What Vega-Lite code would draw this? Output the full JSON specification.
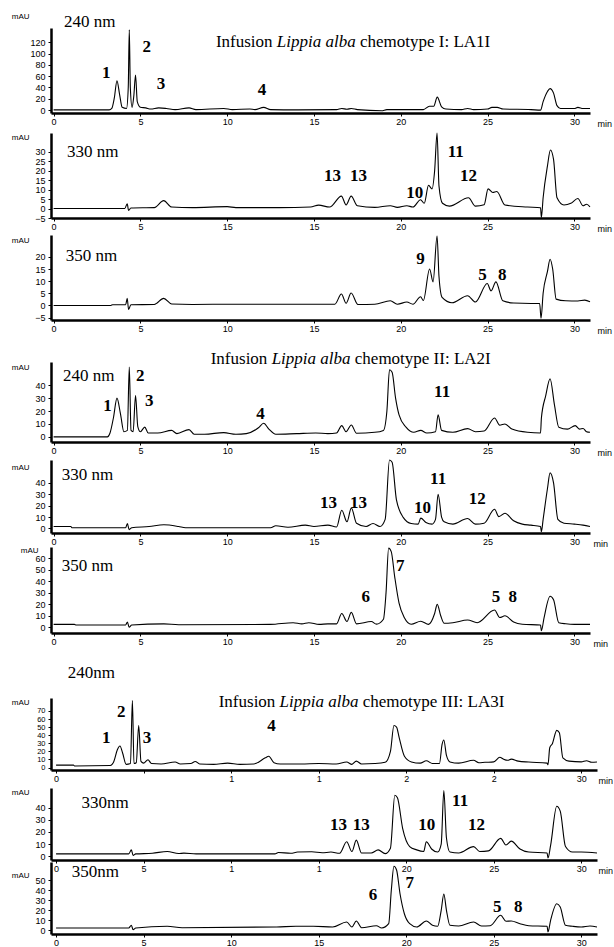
{
"$schema": "https://vega.github.io/schema/vega-lite/v6.json",
"background": "white",
"padding": {"left": 11, "top": 12, "right": 0, "bottom": 0},
"bounds": "flush",
"spacing": 0,
"config": {
 "view": {"stroke": null},
 "axis": {"domainColor": "black", "domainWidth": 2.5, "tickColor": "black", "tickSize": 3, "tickWidth": 1, "labelFont": "Liberation Sans", "labelFontSize": 9, "labelColor": "black", "labelPadding": 1, "labelOverlap": false, "labelFlush": false, "labelBound": false, "grid": false, "titleFont": "Liberation Sans", "titleFontSize": 9, "titleFontWeight": "normal", "titleColor": "black", "titlePadding": 0},
 "axisY": {"labelPadding": 3, "titleAngle": 0, "titleAlign": "right", "titleBaseline": "middle", "titleX": -22, "titleFontSize": 8},
 "axisX": {"titleAlign": "left", "titleBaseline": "middle", "titleY": 10, "titleAngle": 0},
 "text": {"font": "Liberation Serif", "fontSize": 17, "color": "black"},
 "line": {"color": "black", "strokeWidth": 1.1, "interpolate": "monotone"}
},
"vconcat": [
{
 "width": 539, "height": 85,
 "encoding": {
  "x": {"field": "t", "type": "quantitative", "scale": {"domain": [-0.15, 30.9], "nice": false, "zero": false}, "axis": {"values": [0,5,10,15,20,25,30], "title": "min", "titleX": 546}},
  "y": {"field": "v", "type": "quantitative", "scale": {"domain": [-5, 145], "nice": false, "zero": false}, "axis": {"values": [0,20,40,60,80,100,120], "title": "mAU", "titleY": -12}}
 },
 "layer": [
  {"data": {"values": [
   {"t":0,"v":0.5},{"t":3.2,"v":0.5},{"t":3.35,"v":3},{"t":3.5,"v":22},{"t":3.65,"v":52},{"t":3.8,"v":28},{"t":3.95,"v":5},{"t":4.2,"v":3},{"t":4.3,"v":40},{"t":4.36,"v":142},{"t":4.42,"v":40},{"t":4.52,"v":5},{"t":4.62,"v":25},{"t":4.72,"v":62},{"t":4.82,"v":15},{"t":5.0,"v":5},{"t":5.3,"v":4},{"t":5.6,"v":2},{"t":6.05,"v":4},{"t":6.5,"v":3},{"t":7.0,"v":1},{"t":7.8,"v":4},{"t":8.2,"v":1},{"t":9.8,"v":3},{"t":10.3,"v":1},{"t":11.3,"v":2},{"t":11.6,"v":1},{"t":12.1,"v":5},{"t":12.5,"v":1},{"t":14,"v":0.5},{"t":16.3,"v":1},{"t":16.6,"v":3},{"t":16.9,"v":1.5},{"t":17.15,"v":3},{"t":17.5,"v":1},{"t":18.9,"v":-1},{"t":19.2,"v":1},{"t":21.3,"v":1},{"t":21.65,"v":7},{"t":21.9,"v":7},{"t":22.1,"v":23},{"t":22.35,"v":6},{"t":22.6,"v":2},{"t":23.5,"v":1},{"t":23.85,"v":3},{"t":24.2,"v":1},{"t":25.0,"v":2},{"t":25.25,"v":5},{"t":25.55,"v":5},{"t":25.9,"v":2},{"t":27.5,"v":1},{"t":28.05,"v":0},{"t":28.2,"v":15},{"t":28.45,"v":33},{"t":28.6,"v":38},{"t":28.8,"v":30},{"t":29.0,"v":8},{"t":29.2,"v":3},{"t":30.0,"v":3},{"t":30.2,"v":5},{"t":30.5,"v":3},{"t":30.9,"v":3}
  ]}, "mark": {"type": "line"}, "encoding": {}},
  {"data": {"values": [{"t":3.03,"v":65,"s":"1"},{"t":5.37,"v":111,"s":"2"},{"t":6.18,"v":47,"s":"3"},{"t":12.0,"v":35,"s":"4"}]},
   "mark": {"type": "text", "fontWeight": "bold", "align": "center", "baseline": "middle"}, "encoding": {"text": {"field": "s"}}},
  {"data": {"values": [{"t":0.6,"v":155,"s":"240 nm"},{"t":9.35,"v":120,"s":"Infusion"},{"t":17.65,"v":120,"s":"chemotype I: LA1I"}]},
   "mark": {"type": "text", "align": "left", "baseline": "middle"}, "encoding": {"text": {"field": "s"}}},
  {"data": {"values": [{"t":12.86,"v":120,"s":"Lippia alba"}]},
   "mark": {"type": "text", "align": "left", "baseline": "middle", "fontStyle": "italic"}, "encoding": {"text": {"field": "s"}}}
 ]
},
{"width": 539, "height": 20, "data": {"values": []}, "mark": "point"},
{
 "width": 539, "height": 85,
 "encoding": {
  "x": {"field": "t", "type": "quantitative", "scale": {"domain": [-0.15, 30.9], "nice": false, "zero": false}, "axis": {"values": [0,5,10,15,20,25,30], "labelExpr": "datum.value == 10 ? '15' : datum.label", "title": "min", "titleX": 546}},
  "y": {"field": "v", "type": "quantitative", "scale": {"domain": [-5, 40], "nice": false, "zero": false}, "axis": {"values": [-5,0,5,10,15,20,25,30], "title": "mAU", "titleY": 4}}
 },
 "layer": [
  {"data": {"values": [
   {"t":0,"v":0},{"t":4.1,"v":0},{"t":4.24,"v":2.5},{"t":4.32,"v":-1},{"t":4.45,"v":0.3},{"t":5.8,"v":0.5},{"t":6.34,"v":4.2},{"t":6.8,"v":0.8},{"t":8,"v":0.5},{"t":10.0,"v":1},{"t":10.5,"v":0.5},{"t":13,"v":0.5},{"t":14.8,"v":0.8},{"t":15.27,"v":1.8},{"t":15.9,"v":0.8},{"t":16.58,"v":6.6},{"t":16.85,"v":1.9},{"t":17.14,"v":6.6},{"t":17.5,"v":1.5},{"t":18.5,"v":0.6},{"t":19.4,"v":1.5},{"t":19.8,"v":0.6},{"t":20.35,"v":1.5},{"t":20.7,"v":0.8},{"t":21.14,"v":4.7},{"t":21.35,"v":2.8},{"t":21.6,"v":12.3},{"t":21.8,"v":10.4},{"t":21.95,"v":20},{"t":22.09,"v":40},{"t":22.2,"v":12},{"t":22.4,"v":2.8},{"t":22.8,"v":1.3},{"t":23.9,"v":5.7},{"t":24.3,"v":1.3},{"t":24.8,"v":2},{"t":25.03,"v":10.4},{"t":25.3,"v":8.5},{"t":25.53,"v":9},{"t":26.0,"v":1.9},{"t":27.3,"v":0.8},{"t":28.05,"v":0.4},{"t":28.1,"v":-4.7},{"t":28.2,"v":5.7},{"t":28.45,"v":22.6},{"t":28.62,"v":31},{"t":28.8,"v":26},{"t":29.0,"v":5.7},{"t":29.4,"v":1.9},{"t":29.8,"v":2.8},{"t":30.2,"v":5.3},{"t":30.5,"v":1.5},{"t":30.7,"v":2.3},{"t":30.9,"v":0.9}
  ]}, "mark": {"type": "line"}, "encoding": {}},
  {"data": {"values": [{"t":16.06,"v":17,"s":"13"},{"t":17.57,"v":17,"s":"13"},{"t":20.8,"v":8.5,"s":"10"},{"t":23.17,"v":30,"s":"11"},{"t":23.9,"v":17,"s":"12"}]},
   "mark": {"type": "text", "fontWeight": "bold", "align": "center", "baseline": "middle"}, "encoding": {"text": {"field": "s"}}},
  {"data": {"values": [{"t":0.77,"v":30,"s":"330 nm"}]},
   "mark": {"type": "text", "align": "left", "baseline": "middle"}, "encoding": {"text": {"field": "s"}}}
 ]
},
{"width": 539, "height": 17, "data": {"values": []}, "mark": "point"},
{
 "width": 539, "height": 85,
 "encoding": {
  "x": {"field": "t", "type": "quantitative", "scale": {"domain": [-0.15, 30.9], "nice": false, "zero": false}, "axis": {"values": [0,5,10,15,20,25,30], "title": "min", "titleX": 546}},
  "y": {"field": "v", "type": "quantitative", "scale": {"domain": [-6, 29], "nice": false, "zero": false}, "axis": {"values": [-5,0,5,10,15,20], "title": "mAU", "titleY": 5}}
 },
 "layer": [
  {"data": {"values": [
   {"t":0,"v":0},{"t":3.3,"v":0},{"t":3.4,"v":0.3},{"t":4.15,"v":0.3},{"t":4.24,"v":2.9},{"t":4.32,"v":-1.7},{"t":4.45,"v":0.3},{"t":5.8,"v":0.4},{"t":6.34,"v":2.9},{"t":6.8,"v":0.6},{"t":8,"v":0.4},{"t":10,"v":0.5},{"t":13,"v":0.5},{"t":16.2,"v":0.5},{"t":16.58,"v":4.7},{"t":16.85,"v":0.9},{"t":17.14,"v":5.1},{"t":17.53,"v":0.4},{"t":18.5,"v":0.5},{"t":19.4,"v":1.9},{"t":19.8,"v":0.5},{"t":20.35,"v":1.4},{"t":20.7,"v":0.5},{"t":21.14,"v":3.6},{"t":21.3,"v":2},{"t":21.66,"v":15},{"t":21.86,"v":9.7},{"t":22.09,"v":28.6},{"t":22.2,"v":12},{"t":22.38,"v":3.3},{"t":22.95,"v":1.1},{"t":23.85,"v":4},{"t":24.3,"v":1.4},{"t":24.98,"v":9},{"t":25.2,"v":6},{"t":25.48,"v":9.7},{"t":25.88,"v":1.9},{"t":26.5,"v":1},{"t":27.5,"v":0.8},{"t":28.0,"v":0.8},{"t":28.08,"v":-5.3},{"t":28.2,"v":5},{"t":28.45,"v":14},{"t":28.6,"v":19},{"t":28.75,"v":15},{"t":28.95,"v":2.6},{"t":29.5,"v":1.9},{"t":30.2,"v":1.8},{"t":30.6,"v":2.2},{"t":30.9,"v":1.5}
  ]}, "mark": {"type": "line"}, "encoding": {}},
  {"data": {"values": [{"t":21.14,"v":19,"s":"9"},{"t":24.71,"v":12.6,"s":"5"},{"t":25.84,"v":12.6,"s":"8"}]},
   "mark": {"type": "text", "fontWeight": "bold", "align": "center", "baseline": "middle"}, "encoding": {"text": {"field": "s"}}},
  {"data": {"values": [{"t":0.7,"v":20.4,"s":"350 nm"}]},
   "mark": {"type": "text", "align": "left", "baseline": "middle"}, "encoding": {"text": {"field": "s"}}}
 ]
},
{"width": 539, "height": 42, "data": {"values": []}, "mark": "point"},
{
 "width": 539, "height": 80,
 "encoding": {
  "x": {"field": "t", "type": "quantitative", "scale": {"domain": [-0.15, 30.9], "nice": false, "zero": false}, "axis": {"values": [0,5,10,15,20,25,30], "title": "min", "titleX": 546}},
  "y": {"field": "v", "type": "quantitative", "scale": {"domain": [-4, 58], "nice": false, "zero": false}, "axis": {"values": [0,10,20,30,40], "title": "mAU", "titleY": 5}}
 },
 "layer": [
  {"data": {"values": [
   {"t":0,"v":0},{"t":3.1,"v":0},{"t":3.25,"v":3},{"t":3.45,"v":15},{"t":3.65,"v":30},{"t":3.85,"v":18},{"t":4.05,"v":4},{"t":4.25,"v":5},{"t":4.36,"v":54},{"t":4.46,"v":5},{"t":4.58,"v":4},{"t":4.72,"v":32},{"t":4.85,"v":8},{"t":5.0,"v":4},{"t":5.25,"v":7.5},{"t":5.45,"v":3},{"t":6.0,"v":3},{"t":6.8,"v":5},{"t":7.1,"v":2.5},{"t":7.8,"v":5.6},{"t":8.1,"v":2},{"t":8.7,"v":2},{"t":9.8,"v":3.3},{"t":10.5,"v":2},{"t":11.1,"v":2.5},{"t":11.8,"v":7},{"t":12.1,"v":10.5},{"t":12.4,"v":6},{"t":12.8,"v":2},{"t":14,"v":2.5},{"t":15.1,"v":3},{"t":15.8,"v":2.5},{"t":16.3,"v":3},{"t":16.6,"v":8.7},{"t":16.85,"v":4},{"t":17.15,"v":9.2},{"t":17.45,"v":2.8},{"t":18.5,"v":3.5},{"t":19.0,"v":5},{"t":19.2,"v":20},{"t":19.35,"v":52},{"t":19.5,"v":50},{"t":19.7,"v":30},{"t":19.9,"v":17},{"t":20.3,"v":7.5},{"t":20.75,"v":3.5},{"t":21.15,"v":5},{"t":21.5,"v":3},{"t":22.0,"v":4},{"t":22.15,"v":17},{"t":22.35,"v":5},{"t":23.0,"v":3.5},{"t":23.85,"v":6.4},{"t":24.3,"v":4},{"t":24.8,"v":4.5},{"t":25.4,"v":14.6},{"t":25.7,"v":9},{"t":26.0,"v":10},{"t":26.4,"v":6},{"t":27.3,"v":3.5},{"t":28.05,"v":3},{"t":28.1,"v":14.6},{"t":28.35,"v":32},{"t":28.6,"v":45},{"t":28.85,"v":25},{"t":29.1,"v":7.5},{"t":29.6,"v":6},{"t":30.05,"v":8.7},{"t":30.3,"v":6},{"t":30.5,"v":6.5},{"t":30.7,"v":4},{"t":30.9,"v":3.5}
  ]}, "mark": {"type": "line"}, "encoding": {}},
  {"data": {"values": [{"t":3.11,"v":24,"s":"1"},{"t":4.99,"v":47.5,"s":"2"},{"t":5.51,"v":27.5,"s":"3"},{"t":11.92,"v":17.6,"s":"4"},{"t":22.38,"v":34.6,"s":"11"}]},
   "mark": {"type": "text", "fontWeight": "bold", "align": "center", "baseline": "middle"}, "encoding": {"text": {"field": "s"}}},
  {"data": {"values": [{"t":0.54,"v":47.5,"s":"240 nm"},{"t":9.05,"v":60.5,"s":"Infusion"},{"t":17.35,"v":60.5,"s":"chemotype  II: LA2I"}]},
   "mark": {"type": "text", "align": "left", "baseline": "middle"}, "encoding": {"text": {"field": "s"}}},
  {"data": {"values": [{"t":12.56,"v":60.5,"s":"Lippia alba"}]},
   "mark": {"type": "text", "align": "left", "baseline": "middle", "fontStyle": "italic"}, "encoding": {"text": {"field": "s"}}}
 ]
},
{"width": 539, "height": 18, "data": {"values": []}, "mark": "point"},
{
 "width": 539, "height": 73,
 "encoding": {
  "x": {"field": "t", "type": "quantitative", "scale": {"domain": [-0.15, 30.9], "nice": false, "zero": false}, "axis": {"values": [0,5,10,15,20,25,30], "title": "min", "titleX": 542}},
  "y": {"field": "v", "type": "quantitative", "scale": {"domain": [-4, 60], "nice": false, "zero": false}, "axis": {"values": [0,10,20,30,40], "title": "mAU", "titleY": 7}}
 },
 "layer": [
  {"data": {"values": [
   {"t":0,"v":1.7},{"t":1.0,"v":1.7},{"t":1.05,"v":0.6},{"t":4.15,"v":0.6},{"t":4.25,"v":4.3},{"t":4.35,"v":-1},{"t":4.5,"v":0.6},{"t":5.5,"v":1.7},{"t":6.35,"v":3.2},{"t":7.2,"v":1.7},{"t":7.6,"v":0.6},{"t":12.5,"v":0.6},{"t":12.8,"v":2.3},{"t":13.5,"v":1},{"t":14.5,"v":2.9},{"t":15.0,"v":1.7},{"t":15.8,"v":2.9},{"t":16.3,"v":1.2},{"t":16.6,"v":16},{"t":16.9,"v":5.8},{"t":17.15,"v":18},{"t":17.45,"v":4.6},{"t":18.0,"v":1.7},{"t":18.4,"v":4.3},{"t":18.8,"v":1.7},{"t":19.1,"v":8},{"t":19.35,"v":60},{"t":19.5,"v":58},{"t":19.75,"v":25},{"t":20.15,"v":9.5},{"t":20.6,"v":4.3},{"t":21.0,"v":3.8},{"t":21.15,"v":9},{"t":21.45,"v":5.2},{"t":21.8,"v":3.8},{"t":22.0,"v":8},{"t":22.15,"v":30},{"t":22.35,"v":10},{"t":22.5,"v":5.8},{"t":23.0,"v":3.8},{"t":23.85,"v":8.7},{"t":24.3,"v":3.8},{"t":24.8,"v":4.6},{"t":25.4,"v":16.8},{"t":25.65,"v":10.4},{"t":26.0,"v":13.3},{"t":26.5,"v":6.7},{"t":27.0,"v":3.8},{"t":27.5,"v":2.9},{"t":28.05,"v":1.7},{"t":28.1,"v":-2.9},{"t":28.2,"v":8},{"t":28.45,"v":35},{"t":28.6,"v":48.7},{"t":28.8,"v":40},{"t":29.05,"v":8},{"t":29.4,"v":4.6},{"t":30.0,"v":3.8},{"t":30.5,"v":2.9},{"t":30.9,"v":1.7}
  ]}, "mark": {"type": "line"}, "encoding": {}},
  {"data": {"values": [{"t":15.83,"v":22.6,"s":"13"},{"t":17.57,"v":22.6,"s":"13"},{"t":21.25,"v":18.3,"s":"10"},{"t":22.15,"v":43,"s":"11"},{"t":24.41,"v":25.5,"s":"12"}]},
   "mark": {"type": "text", "fontWeight": "bold", "align": "center", "baseline": "middle"}, "encoding": {"text": {"field": "s"}}},
  {"data": {"values": [{"t":0.47,"v":47,"s":"330 nm"}]},
   "mark": {"type": "text", "align": "left", "baseline": "middle"}, "encoding": {"text": {"field": "s"}}}
 ]
},
{"width": 539, "height": 14, "data": {"values": []}, "mark": "point"},
{
 "width": 539, "height": 86,
 "encoding": {
  "x": {"field": "t", "type": "quantitative", "scale": {"domain": [-0.15, 30.9], "nice": false, "zero": false}, "axis": {"values": [0,5,10,15,20,25,30], "title": "min", "titleX": 542}},
  "y": {"field": "v", "type": "quantitative", "scale": {"domain": [-5, 70], "nice": false, "zero": false}, "axis": {"values": [0,10,20,30,40,50,60], "title": "mAU", "titleY": 3, "titleX": -13}}
 },
 "layer": [
  {"data": {"values": [
   {"t":0,"v":2.5},{"t":1.2,"v":2.5},{"t":1.3,"v":2},{"t":4.15,"v":2},{"t":4.25,"v":4.5},{"t":4.35,"v":0},{"t":4.5,"v":2},{"t":6.35,"v":3},{"t":7.2,"v":2.2},{"t":12.5,"v":2.5},{"t":13.8,"v":4},{"t":14.3,"v":3},{"t":14.7,"v":4},{"t":15.3,"v":2.5},{"t":15.8,"v":3},{"t":16.3,"v":3},{"t":16.6,"v":12},{"t":16.9,"v":5},{"t":17.15,"v":13},{"t":17.45,"v":3},{"t":18.3,"v":5},{"t":18.6,"v":2.7},{"t":19.0,"v":7},{"t":19.15,"v":30},{"t":19.3,"v":69},{"t":19.45,"v":66},{"t":19.65,"v":44},{"t":19.9,"v":21},{"t":20.2,"v":8.5},{"t":20.6,"v":2.6},{"t":21.15,"v":5.3},{"t":21.6,"v":2.5},{"t":21.95,"v":12},{"t":22.1,"v":20},{"t":22.3,"v":10},{"t":22.5,"v":3.5},{"t":23.0,"v":4},{"t":23.85,"v":6.3},{"t":24.4,"v":4},{"t":25.4,"v":15},{"t":25.7,"v":8.5},{"t":26.0,"v":10},{"t":26.5,"v":4.5},{"t":27.0,"v":2.6},{"t":28.05,"v":2},{"t":28.1,"v":-3},{"t":28.25,"v":8},{"t":28.6,"v":27},{"t":28.8,"v":24},{"t":29.1,"v":4},{"t":29.5,"v":3},{"t":30.0,"v":2.5},{"t":30.9,"v":2.5}
  ]}, "mark": {"type": "line"}, "encoding": {}},
  {"data": {"values": [{"t":17.98,"v":26,"s":"6"},{"t":19.97,"v":53.6,"s":"7"},{"t":25.48,"v":26,"s":"5"},{"t":26.45,"v":26,"s":"8"}]},
   "mark": {"type": "text", "fontWeight": "bold", "align": "center", "baseline": "middle"}, "encoding": {"text": {"field": "s"}}},
  {"data": {"values": [{"t":0.47,"v":53.6,"s":"350 nm"}]},
   "mark": {"type": "text", "align": "left", "baseline": "middle"}, "encoding": {"text": {"field": "s"}}}
 ]
},
{"width": 539, "height": 65, "data": {"values": []}, "mark": "point"},
{
 "width": 546, "height": 72,
 "encoding": {
  "x": {"field": "t", "type": "quantitative", "scale": {"domain": [-0.29, 30.9], "nice": false, "zero": false}, "axis": {"values": [0,5,10,15,20,25,30], "labelExpr": "datum.value == 5 ? '' : (datum.value == 10 || datum.value == 15) ? '1' : (datum.value == 20 || datum.value == 25) ? '2' : datum.label", "title": "min", "titleX": 547}},
  "y": {"field": "v", "type": "quantitative", "scale": {"domain": [-3, 86], "nice": false, "zero": false}, "axis": {"values": [0,10,20,30,40,50,60,70], "labelFontSize": 7.5, "title": "mAU", "titleY": 4}}
 },
 "layer": [
  {"data": {"values": [
   {"t":0,"v":3},{"t":1.0,"v":3},{"t":1.05,"v":2},{"t":3.1,"v":2.5},{"t":3.3,"v":7.6},{"t":3.5,"v":22},{"t":3.65,"v":26.6},{"t":3.8,"v":18},{"t":4.0,"v":4},{"t":4.25,"v":5},{"t":4.36,"v":83},{"t":4.45,"v":5},{"t":4.58,"v":6},{"t":4.72,"v":52},{"t":4.85,"v":7.6},{"t":5.0,"v":5.5},{"t":5.25,"v":9.7},{"t":5.45,"v":5},{"t":6.0,"v":4.5},{"t":6.8,"v":6.8},{"t":7.1,"v":4.5},{"t":7.7,"v":5},{"t":7.95,"v":7.6},{"t":8.2,"v":4.5},{"t":9.0,"v":4},{"t":9.8,"v":5.5},{"t":10.5,"v":4},{"t":11.3,"v":4.5},{"t":11.95,"v":12},{"t":12.15,"v":14},{"t":12.45,"v":6},{"t":12.8,"v":4.5},{"t":14,"v":4.5},{"t":15,"v":5},{"t":16,"v":4.5},{"t":16.6,"v":6.8},{"t":16.9,"v":4},{"t":17.15,"v":8},{"t":17.45,"v":4.5},{"t":18.2,"v":5},{"t":18.8,"v":6.5},{"t":19.1,"v":20},{"t":19.3,"v":52},{"t":19.45,"v":50},{"t":19.6,"v":37},{"t":19.9,"v":14},{"t":20.3,"v":7},{"t":20.8,"v":5.5},{"t":21.15,"v":8.4},{"t":21.5,"v":5},{"t":21.9,"v":5},{"t":22.05,"v":28.7},{"t":22.15,"v":34},{"t":22.3,"v":15},{"t":22.5,"v":7},{"t":23.0,"v":5.5},{"t":23.85,"v":9},{"t":24.15,"v":6},{"t":24.5,"v":6.5},{"t":25.0,"v":7},{"t":25.35,"v":12.7},{"t":25.55,"v":10.5},{"t":25.8,"v":9},{"t":26.0,"v":10.5},{"t":26.4,"v":8},{"t":27.0,"v":6.8},{"t":28.05,"v":5.5},{"t":28.1,"v":3.4},{"t":28.2,"v":24.5},{"t":28.35,"v":29.5},{"t":28.6,"v":46},{"t":28.75,"v":43},{"t":28.95,"v":12},{"t":29.3,"v":8},{"t":30.0,"v":7},{"t":30.3,"v":8.5},{"t":30.6,"v":6.5},{"t":30.9,"v":6.8}
  ]}, "mark": {"type": "line"}, "encoding": {}},
  {"data": {"values": [{"t":2.86,"v":37,"s":"1"},{"t":3.72,"v":69,"s":"2"},{"t":5.2,"v":37,"s":"3"},{"t":12.3,"v":52,"s":"4"}]},
   "mark": {"type": "text", "fontWeight": "bold", "align": "center", "baseline": "middle"}, "encoding": {"text": {"field": "s"}}},
  {"data": {"values": [{"t":0.67,"v":117,"s":"240nm"},{"t":9.29,"v":81,"s":"Infusion"},{"t":17.52,"v":81,"s":"chemotype III: LA3I"}]},
   "mark": {"type": "text", "align": "left", "baseline": "middle"}, "encoding": {"text": {"field": "s"}}},
  {"data": {"values": [{"t":12.77,"v":81,"s":"Lippia alba"}]},
   "mark": {"type": "text", "align": "left", "baseline": "middle", "fontStyle": "italic"}, "encoding": {"text": {"field": "s"}}}
 ]
},
{"width": 546, "height": 18, "data": {"values": []}, "mark": "point"},
{
 "width": 546, "height": 72,
 "encoding": {
  "x": {"field": "t", "type": "quantitative", "scale": {"domain": [-0.29, 30.9], "nice": false, "zero": false}, "axis": {"values": [0,5,10,15,20,25,30], "labelExpr": "(datum.value == 10 || datum.value == 15) ? '1' : datum.label", "title": "min", "titleX": 547}},
  "y": {"field": "v", "type": "quantitative", "scale": {"domain": [-3, 56], "nice": false, "zero": false}, "axis": {"values": [0,10,20,30,40], "title": "mAU", "titleY": 4}}
 },
 "layer": [
  {"data": {"values": [
   {"t":0,"v":2},{"t":4.15,"v":2},{"t":4.3,"v":5.3},{"t":4.4,"v":0.8},{"t":4.55,"v":2},{"t":5.5,"v":2.5},{"t":6.35,"v":4},{"t":7.0,"v":2.3},{"t":7.3,"v":2.6},{"t":8,"v":2},{"t":12.5,"v":2},{"t":12.7,"v":3.2},{"t":13.4,"v":2.5},{"t":13.8,"v":3.5},{"t":14.6,"v":3.7},{"t":15.2,"v":2.9},{"t":15.7,"v":3.5},{"t":16.2,"v":2.5},{"t":16.6,"v":12},{"t":16.9,"v":4},{"t":17.15,"v":13.3},{"t":17.45,"v":2.7},{"t":18.0,"v":2.7},{"t":18.4,"v":5.3},{"t":18.8,"v":2.2},{"t":19.1,"v":6.7},{"t":19.35,"v":50},{"t":19.5,"v":48},{"t":19.8,"v":22.7},{"t":20.2,"v":8},{"t":20.6,"v":5.3},{"t":21.0,"v":4},{"t":21.15,"v":12},{"t":21.45,"v":6},{"t":21.8,"v":3.5},{"t":22.0,"v":10},{"t":22.15,"v":54},{"t":22.3,"v":15},{"t":22.5,"v":3.5},{"t":23.0,"v":2.7},{"t":23.85,"v":8},{"t":24.2,"v":4},{"t":24.7,"v":4.5},{"t":25.4,"v":14.7},{"t":25.7,"v":9.3},{"t":26.0,"v":12.5},{"t":26.5,"v":6},{"t":27.0,"v":3.5},{"t":28.05,"v":2.7},{"t":28.1,"v":-1.3},{"t":28.25,"v":9},{"t":28.6,"v":41},{"t":28.8,"v":37},{"t":29.1,"v":8},{"t":29.5,"v":3.5},{"t":30.0,"v":3.5},{"t":30.9,"v":2.7}
  ]}, "mark": {"type": "line"}, "encoding": {}},
  {"data": {"values": [{"t":16.13,"v":26,"s":"13"},{"t":17.43,"v":26,"s":"13"},{"t":21.17,"v":26,"s":"10"},{"t":23.08,"v":45,"s":"11"},{"t":24.02,"v":26,"s":"12"}]},
   "mark": {"type": "text", "fontWeight": "bold", "align": "center", "baseline": "middle"}, "encoding": {"text": {"field": "s"}}},
  {"data": {"values": [{"t":1.45,"v":44,"s":"330nm"}]},
   "mark": {"type": "text", "align": "left", "baseline": "middle"}, "encoding": {"text": {"field": "s"}}}
 ]
},
{"width": 546, "height": 2, "data": {"values": []}, "mark": "point"},
{
 "width": 546, "height": 72,
 "encoding": {
  "x": {"field": "t", "type": "quantitative", "scale": {"domain": [-0.29, 30.9], "nice": false, "zero": false}, "axis": {"values": [0,5,10,15,20,25,30], "title": null}},
  "y": {"field": "v", "type": "quantitative", "scale": {"domain": [-4, 68], "nice": false, "zero": false}, "axis": {"values": [0,10,20,30,40,50], "title": "mAU", "titleY": 13}}
 },
 "layer": [
  {"data": {"values": [
   {"t":0,"v":2},{"t":4.15,"v":2},{"t":4.3,"v":4.7},{"t":4.4,"v":0.3},{"t":4.55,"v":2},{"t":6.35,"v":3.7},{"t":7.2,"v":2.3},{"t":12.6,"v":3},{"t":13.7,"v":3.7},{"t":14.7,"v":3.7},{"t":15.8,"v":3},{"t":16.6,"v":8},{"t":16.9,"v":3},{"t":17.15,"v":9},{"t":17.45,"v":2.3},{"t":18.3,"v":4.3},{"t":18.6,"v":2},{"t":19.0,"v":6.3},{"t":19.15,"v":39.7},{"t":19.3,"v":63.7},{"t":19.45,"v":60},{"t":19.65,"v":36},{"t":19.9,"v":16},{"t":20.2,"v":6.3},{"t":20.6,"v":3},{"t":21.15,"v":9},{"t":21.5,"v":4.7},{"t":21.8,"v":3.7},{"t":22.0,"v":19.7},{"t":22.15,"v":36},{"t":22.3,"v":19.7},{"t":22.5,"v":4.7},{"t":23.0,"v":4},{"t":23.85,"v":8},{"t":24.3,"v":4},{"t":24.8,"v":4.3},{"t":25.4,"v":14.7},{"t":25.7,"v":8.7},{"t":26.0,"v":9},{"t":26.5,"v":6.3},{"t":27.0,"v":4.3},{"t":28.05,"v":3.7},{"t":28.1,"v":-2},{"t":28.25,"v":9.7},{"t":28.6,"v":26.3},{"t":28.8,"v":23},{"t":29.1,"v":4.7},{"t":29.5,"v":3.7},{"t":30.0,"v":3},{"t":30.5,"v":4},{"t":30.9,"v":3}
  ]}, "mark": {"type": "line"}, "encoding": {}},
  {"data": {"values": [{"t":18.1,"v":34.7,"s":"6"},{"t":20.2,"v":47,"s":"7"},{"t":25.2,"v":23,"s":"5"},{"t":26.4,"v":23,"s":"8"}]},
   "mark": {"type": "text", "fontWeight": "bold", "align": "center", "baseline": "middle"}, "encoding": {"text": {"field": "s"}}},
  {"data": {"values": [{"t":0.89,"v":58,"s":"350nm"}]},
   "mark": {"type": "text", "align": "left", "baseline": "middle"}, "encoding": {"text": {"field": "s"}}}
 ]
}
]
}
